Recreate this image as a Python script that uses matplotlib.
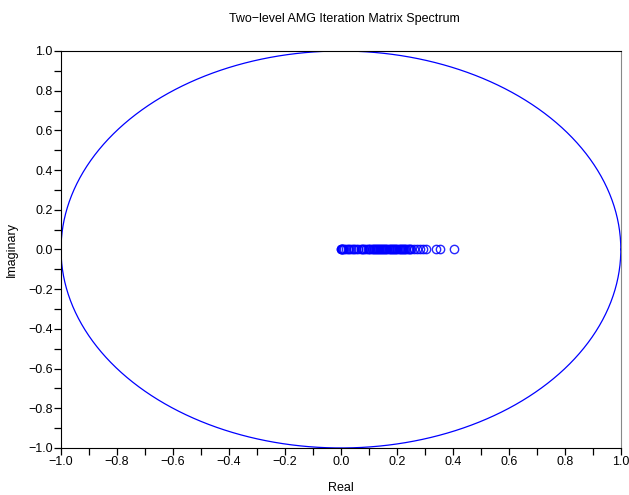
import matplotlib

matplotlib.use("Agg")
import matplotlib.pyplot as plt
import numpy as np
from matplotlib.ticker import MultipleLocator

# eigenvalues of the two-level iteration matrix (all real)
eig_re = [0.000, 0.001, 0.003, 0.005, 0.008, 0.012, 0.018, 0.024, 0.030, 0.036,
          0.042, 0.048, 0.055, 0.062, 0.070, 0.075, 0.078, 0.082, 0.088, 0.095,
          0.100, 0.104, 0.110, 0.114, 0.118, 0.122, 0.125, 0.129, 0.132, 0.136,
          0.140, 0.144, 0.148, 0.152, 0.155, 0.159, 0.162, 0.166, 0.170, 0.174,
          0.178, 0.182, 0.186, 0.190, 0.194, 0.198, 0.202, 0.206, 0.210, 0.214,
          0.218, 0.222, 0.226, 0.230, 0.234, 0.238, 0.242, 0.246, 0.250, 0.262,
          0.272, 0.283, 0.293, 0.305, 0.338, 0.355, 0.405]
eig_im = [0.0] * len(eig_re)

# unit circle
theta = np.linspace(0, 2 * np.pi, 400)

plt.rcParams.update({"font.family": "Liberation Sans", "font.size": 9})

fig = plt.figure(figsize=(6.29, 4.95), dpi=100)
ax = fig.add_axes([0.097, 0.095, 0.890, 0.802])

ax.plot(np.cos(theta), np.sin(theta), color="#0000ff", linewidth=0.9)
ax.plot(eig_re, eig_im, "o", markerfacecolor="none", markeredgecolor="#0000ff",
        markersize=6, markeredgewidth=1.0, alpha=0.85)

ax.set_xlim(-1, 1)
ax.set_ylim(-1, 1)
ax.xaxis.set_major_locator(MultipleLocator(0.2))
ax.xaxis.set_minor_locator(MultipleLocator(0.1))
ax.yaxis.set_major_locator(MultipleLocator(0.2))
ax.yaxis.set_minor_locator(MultipleLocator(0.1))
fmt = plt.FuncFormatter(lambda v, p: f"{v:.1f}".replace("-", "\u2212"))
ax.xaxis.set_major_formatter(fmt)
ax.yaxis.set_major_formatter(fmt)
ax.tick_params(which="major", direction="out", length=5, width=0.9, labelsize=9, pad=1)
ax.tick_params(which="minor", direction="out", length=5, width=0.9)
ax.spines["right"].set_color("#888888")

ax.set_xlabel("Real", fontsize=9, labelpad=10)
ax.set_ylabel("Imaginary", fontsize=9, labelpad=7)
fig.text(0.547, 0.962, "Two\u2212level AMG Iteration Matrix Spectrum", ha="center", va="center", fontsize=9)

fig.savefig("out.png", dpi=100)
